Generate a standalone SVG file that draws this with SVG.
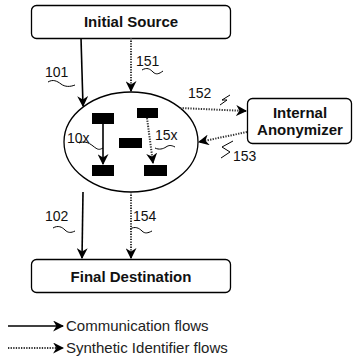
<svg xmlns="http://www.w3.org/2000/svg" width="353" height="360" viewBox="0 0 353 360">
<defs>
<style>
.box{fill:#fff;stroke:#000;stroke-width:1.3}
.t{font-family:"Liberation Sans",Arial,sans-serif;fill:#111}
.b{font-weight:bold;font-size:15px}
.n{font-size:14px}
.lg{font-size:15px;fill:#222}
.s{fill:none;stroke:#000;stroke-width:1.6}
.d{fill:none;stroke:#333;stroke-width:2;stroke-dasharray:1.3 1.3}
.sq{fill:none;stroke:#000;stroke-width:1}
.blk{fill:#000}
</style>
<marker id="ah" viewBox="0 0 10 10" refX="9" refY="5" markerWidth="11" markerHeight="11" markerUnits="userSpaceOnUse" orient="auto">
<path d="M0,0 L10,5 L0,10 L3,5 Z" fill="#000"/>
</marker>
</defs>

<g id="initial-source">
<rect class="box" x="31.5" y="5.5" width="199" height="33" rx="5"/>
<text class="t b" x="131" y="27" text-anchor="middle">Initial Source</text>
</g>

<g id="anonymization-zone">
<ellipse class="box" cx="131" cy="142" rx="67" ry="50"/>
<rect class="blk" x="92" y="113" width="22" height="11"/>
<rect class="blk" x="137" y="108" width="21" height="10"/>
<rect class="blk" x="119" y="138" width="23" height="10"/>
<rect class="blk" x="92" y="165" width="22" height="11"/>
<rect class="blk" x="144" y="165" width="23" height="11"/>
<text class="t n" x="67" y="143">10x</text>
<path class="sq" d="M79,143 C84,141 88,142 93,146 S99,150 103,148"/>
<text class="t n" x="155" y="140">15x</text>
<path class="sq" d="M155,148 C159,150 163,149 166,147 S171,145 175,147"/>
</g>

<g id="internal-anonymizer">
<rect class="box" x="247.5" y="98.5" width="104" height="45" rx="5"/>
<text class="t b" x="300" y="118" text-anchor="middle">Internal</text>
<text class="t b" x="300" y="135" text-anchor="middle">Anonymizer</text>
</g>

<g id="final-destination">
<rect class="box" x="31.5" y="259.5" width="199" height="33" rx="5"/>
<text class="t b" x="131" y="282" text-anchor="middle">Final Destination</text>
</g>

<g id="connectors">
<line class="s" x1="81" y1="38" x2="83" y2="106" marker-end="url(#ah)"/>
<line class="d" x1="131" y1="38" x2="131" y2="91" marker-end="url(#ah)"/>
<line class="d" x1="180" y1="108" x2="246" y2="111" marker-end="url(#ah)"/>
<line class="d" x1="247" y1="132" x2="199" y2="142" marker-end="url(#ah)"/>
<line class="s" x1="83" y1="192" x2="82" y2="258" marker-end="url(#ah)"/>
<line class="d" x1="131" y1="192" x2="131" y2="258" marker-end="url(#ah)"/>
<line class="s" x1="103" y1="124" x2="103" y2="164" marker-end="url(#ah)"/>
<line class="d" x1="147" y1="118" x2="153" y2="163" marker-end="url(#ah)"/>
</g>

<g id="labels">
<text class="t n" x="45" y="77">101</text>
<path class="sq" d="M48,82 C53,79 57,81 61,84 S70,87 75,85"/>
<text class="t n" x="136" y="66">151</text>
<path class="sq" d="M142,70 C147,67 150,69 153,72 S159,74 163,71"/>
<text class="t n" x="188" y="98">152</text>
<path class="sq" d="M230,95 L222,100 L227,100 L220,105"/>
<text class="t n" x="233" y="161">153</text>
<path class="sq" d="M233,141 L222,147 L230,152 L221,158"/>
<text class="t n" x="45" y="221">102</text>
<path class="sq" d="M53,228 C58,225 62,227 65,230 S71,233 75,231"/>
<text class="t n" x="133" y="221">154</text>
<path class="sq" d="M130,229 C135,226 139,228 142,231 S148,233 152,231"/>
</g>

<g id="legend">
<line class="s" x1="8" y1="326" x2="63" y2="326" marker-end="url(#ah)"/>
<text class="t lg" x="66" y="331">Communication flows</text>
<line class="d" x1="8" y1="348" x2="63" y2="348" stroke-width="1.3" marker-end="url(#ah)"/>
<text class="t lg" x="66" y="353">Synthetic Identifier flows</text>
</g>
</svg>
